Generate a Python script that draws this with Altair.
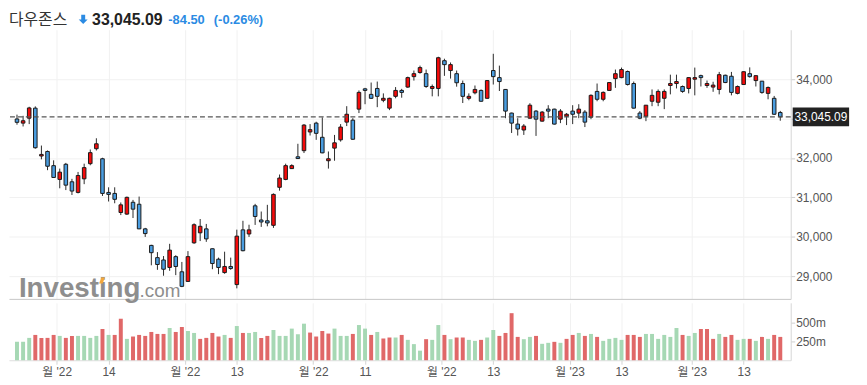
import json
import altair as alt
import pandas as pd

# ---------------- data ----------------
opens = [32990, 32885, 33010, 33265, 32050, 32165, 31805, 31455, 31840, 31395,
         31125, 31470, 31855, 32235, 31980, 31125, 31100, 30615, 30575, 30875,
         30825, 30200, 29780, 29470, 29410, 29220, 29495, 29110, 28865, 29845,
         30100, 30200, 29695, 29430, 29090, 29245, 28785, 30175, 30070, 30785,
         30425, 30405, 30290, 31255, 31455, 31730, 32030, 32185, 32660, 32885,
         32525, 31930, 32250, 32460, 32910, 32960, 33240, 33755, 33615, 33765,
         33465, 33265, 33565, 33715, 33800, 34065, 34170, 34140, 33765, 33765,
         34470, 34220, 34140, 33890, 33515, 33655, 33715, 33515, 34220, 34040,
         33740, 33140, 32860, 32710, 33010, 33190, 32935, 33240, 33240, 32985,
         33060, 33190, 33140, 33165, 33035, 33690, 33490, 33715, 34015, 34040,
         34195, 33890, 33140, 33060, 33440, 33415, 33515, 33840, 33890, 33815,
         33765, 34000, 34090, 33840, 33800, 33740, 34100, 34075, 33640, 33865,
         34140, 33965, 33950, 33640, 33515, 33155]
highs = [33100, 33070, 33300, 33310, 32315, 32190, 31940, 31730, 31875, 31470,
         31645, 31855, 32215, 32500, 32005, 31255, 31255, 30870, 31020, 30935,
         31020, 30225, 29795, 29610, 29510, 29820, 29530, 29360, 29635, 30340,
         30450, 30325, 29700, 29470, 29620, 29470, 30180, 30405, 30305, 30835,
         30640, 30810, 31100, 31580, 31855, 31840, 32360, 32860, 32860, 32920,
         33030, 32165, 32585, 32860, 33315, 33010, 33715, 33780, 33915, 33940,
         33640, 33530, 33800, 33755, 34065, 34220, 34345, 34245, 33865, 34570,
         34520, 34425, 34220, 33965, 33640, 33840, 33740, 33970, 34645, 34345,
         33750, 33150, 33010, 32860, 33390, 33215, 33190, 33340, 33250, 33240,
         33140, 33340, 33365, 33215, 33615, 33890, 33690, 33925, 34245, 34295,
         34220, 33940, 33190, 33345, 33740, 33740, 33740, 34115, 34115, 33840,
         34050, 34295, 34115, 33965, 33935, 34185, 34115, 34185, 33840, 34200,
         34300, 34095, 33955, 33815, 33575, 33195]
lows = [32845, 32800, 32860, 32235, 31965, 31690, 31495, 31230, 31185, 31060,
        31100, 31335, 31815, 32190, 31035, 30895, 30850, 30550, 30555, 30475,
        30195, 29995, 29275, 29160, 29010, 29135, 29025, 28720, 28860, 29820,
        29890, 29870, 29175, 29050, 29060, 29160, 28690, 29630, 29995, 30300,
        30250, 30265, 30225, 31170, 31435, 31720, 31975, 32125, 32570, 32460,
        32120, 31730, 31930, 32415, 32810, 32460, 33140, 33365, 33500, 33290,
        33415, 33215, 33515, 33530, 33780, 33965, 34140, 33780, 33565, 33565,
        34085, 34015, 33810, 33395, 33465, 33615, 33430, 33505, 33865, 33700,
        33010, 32635, 32570, 32585, 33000, 32560, 32925, 33010, 32850, 32885,
        32835, 32860, 33010, 32785, 32985, 33440, 33440, 33705, 33780, 34025,
        33840, 33255, 32985, 32935, 33315, 33315, 33240, 33615, 33765, 33655,
        33640, 33590, 33815, 33780, 33680, 33615, 33900, 33590, 33615, 33860,
        34040, 33815, 33630, 33490, 33095, 32945]
closes = [32905, 32945, 33270, 32260, 32090, 31790, 31505, 31640, 31310, 31160,
          31555, 31755, 32135, 32360, 31100, 31075, 30950, 30810, 31000, 30700,
          30200, 30080, 29595, 29295, 29175, 29660, 29245, 28740, 29495, 30305,
          30265, 29945, 29320, 29220, 29245, 29195, 30015, 29645, 30175, 30515,
          30375, 30350, 31075, 31490, 31805, 31805, 31985, 32835, 32720, 32625,
          32130, 31980, 32385, 32785, 33110, 32475, 33665, 33715, 33515, 33565,
          33515, 33515, 33715, 33665, 34040, 34140, 34295, 33815, 33815, 34545,
          34370, 34370, 33910, 33565, 33565, 33740, 33440, 33965, 34065, 33940,
          33190, 32885, 32735, 32810, 33340, 32985, 33165, 33190, 32860, 33190,
          33110, 33110, 33240, 32910, 33590, 33490, 33665, 33915, 34140, 34245,
          33865, 33265, 33010, 33340, 33590, 33690, 33690, 33890, 33940, 33690,
          34040, 34040, 34040, 33890, 33850, 34115, 33915, 33665, 33815, 34190,
          34065, 34090, 33665, 33790, 33110, 33045.09]
# volume in millions
volumes = [243, 243, 294, 333, 294, 294, 333, 320, 294, 320, 320, 320, 294, 320,
           411, 333, 333, 546, 281, 312, 333, 320, 372, 346, 346, 424, 372, 437,
           385, 359, 281, 294, 359, 312, 333, 294, 450, 359, 359, 372, 294, 320,
           398, 320, 320, 416, 342, 481, 364, 312, 385, 351, 416, 320, 320, 346,
           463, 416, 333, 372, 286, 299, 299, 333, 268, 212, 126, 277,
           268, 463, 333, 277, 299, 299, 268, 255, 268, 299, 398, 320, 359, 619,
           307, 277, 307, 320, 216, 229, 242, 229, 281, 333, 359, 320, 346, 307,
           255, 281, 294, 268, 333, 333, 307, 346, 346, 281, 333, 307, 424, 333,
           320, 359, 411, 411, 281, 346, 307, 333, 268, 281, 281, 255, 307, 281,
           333, 307]
# volume bar colour class: g = green, r = red
vol_dir = ("gggrrrrgrrggggrgrrgrrrrrrgrrggrrrrgrgrggrr"
           "ggggggrrrrgggrggrgrrgrgggr"
           "ggrgrrggrggrrrrggrggrgrrgrgrggggrrrggggggrggrrrgrrggrgrgrr")

tick_pos = [6.5, 15, 27.5, 36, 48.5, 57, 69.5, 78, 90.5, 99, 110.5, 119]
tick_labels = ["월 '22", "14", "월 '22", "13", "월 '22", "11",
               "월 '22", "13", "월 '23", "13", "월 '23", "13"]
price_ticks = [29000, 30000, 31000, 32000, 33000, 34000]
vol_ticks = [250, 500]

name = "다우존스"
last_price = 33045.09
last_text = "33,045.09"
change_text = "-84.50"
pct_text = "(-0.26%)"

# ---------------- layout ----------------
W = 790
PH = 272
VH = 58
XDOM = [-0.5, 125.9]
YDOM = [28422, 35256]
VDOM = [0, 755]
TY = -10  # title row, relative to the top of the price panel

RED = "#f50a0a"
BLUE = "#4a9de0"
VGREEN = "#a6d8b4"
VRED = "#e06868"
GRID = "#f1f1f1"
TXT = "#555555"
NUMFONT = "Liberation Sans"
KFONT = "Liberation Sans, 'Noto Sans CJK KR'"

N = len(closes)
df = pd.DataFrame({
    "i": list(range(N)),
    "open": opens, "high": highs, "low": lows, "close": closes,
    "vol": volumes, "vdir": list(vol_dir),
})
df["dir"] = ["up" if c >= o else "down" for o, c in zip(opens, closes)]

label_expr = ("[" + ",".join(json.dumps(l, ensure_ascii=False) for l in tick_labels) +
              "][indexof([" + ",".join(str(p) for p in tick_pos) + "], datum.value)]")

xs = alt.Scale(domain=XDOM, nice=False, zero=False)
ys = alt.Scale(domain=YDOM, nice=False, zero=False)

x_price = alt.X("i:Q", scale=xs, axis=alt.Axis(
    values=tick_pos, labels=False, ticks=False, domain=True, domainColor="#c6c6c6",
    grid=True, gridColor=GRID, title=None))

base = alt.Chart(df).encode(x=x_price)

wick = base.mark_rule(color="#2a2a2a", strokeWidth=1).encode(
    y=alt.Y("low:Q", scale=ys, axis=alt.Axis(
        orient="right", values=price_ticks,
        labelExpr="datum.value == 33000 ? '' : format(datum.value, ',')",
        grid=True, gridColor=GRID, domain=True, domainColor="#d6d6d6",
        tickColor="#cfcfcf", tickSize=4, labelPadding=1, labelColor=TXT,
        labelFont=NUMFONT, labelFontSize=12, title=None)),
    y2="high:Q")

body = base.mark_bar(size=3.6, stroke="#1a1a1a", strokeWidth=1).encode(
    y=alt.Y("open:Q", scale=ys),
    y2="close:Q",
    color=alt.Color("dir:N", scale=alt.Scale(domain=["up", "down"], range=[RED, BLUE]),
                    legend=None))

one = pd.DataFrame({"k": [0]})

dashed = alt.Chart(one).mark_rule(color="#555555", strokeWidth=1.2, strokeDash=[5, 3]).encode(
    y=alt.datum(last_price))

tag = alt.Chart(one).mark_rule(color="#222222", strokeWidth=19).encode(
    x=alt.value(W + 2), x2=alt.value(W + 59), y=alt.datum(last_price))
tag_text = alt.Chart(pd.DataFrame({"t": [last_text]})).mark_text(
    color="white", font=NUMFONT, fontSize=12, align="center", baseline="middle").encode(
    x=alt.value(W + 30.5), y=alt.datum(last_price), text="t:N")

wm1 = alt.Chart(pd.DataFrame({"t": ["Investing"]})).mark_text(
    color="#8e8e8e", font=NUMFONT, fontSize=28, fontWeight="bold", align="left",
    baseline="alphabetic").encode(x=alt.value(10), y=alt.value(PH - 2), text="t:N")
wm2 = alt.Chart(pd.DataFrame({"t": [".com"]})).mark_text(
    color="#8e8e8e", font=NUMFONT, fontSize=19, align="left",
    baseline="alphabetic").encode(x=alt.value(132), y=alt.value(PH - 2), text="t:N")
wm3 = alt.Chart(one).mark_point(
    shape="M-0.2,-1 L1,-1 L0.2,1 L-1,1 Z", filled=True, size=36, color="#f3a73b",
    opacity=1).encode(x=alt.value(94), y=alt.value(PH - 18.5))

t_name = alt.Chart(pd.DataFrame({"t": [name]})).mark_text(
    color="#333333", font=KFONT, fontSize=16, align="left",
    baseline="middle").encode(x=alt.value(0), y=alt.value(TY), text="t:N")
t_arrow = alt.Chart(one).mark_point(
    shape="M-0.42,-1 L0.42,-1 L0.42,0.05 L0.95,0.05 L0,1 L-0.95,0.05 L-0.42,0.05 Z",
    filled=True, size=90, color="#2b8be3", opacity=1).encode(
    x=alt.value(75), y=alt.value(TY - 0.5))
t_price = alt.Chart(pd.DataFrame({"t": [last_text]})).mark_text(
    color="#222222", font=NUMFONT, fontSize=16, fontWeight="bold", align="left",
    baseline="middle").encode(x=alt.value(84), y=alt.value(TY), text="t:N")
t_chg = alt.Chart(pd.DataFrame({"t": [change_text]})).mark_text(
    color="#2b8be3", font=NUMFONT, fontSize=13, fontWeight="bold", align="left",
    baseline="middle").encode(x=alt.value(161), y=alt.value(TY), text="t:N")
t_pct = alt.Chart(pd.DataFrame({"t": [pct_text]})).mark_text(
    color="#2b8be3", font=NUMFONT, fontSize=13, fontWeight="bold", align="left",
    baseline="middle").encode(x=alt.value(207), y=alt.value(TY), text="t:N")

price = alt.layer(wm1, wm2, wm3, wick, body, dashed, tag, tag_text,
                  t_name, t_arrow, t_price, t_chg, t_pct).properties(width=W, height=PH)

vol = alt.Chart(df).mark_bar(size=4).encode(
    x=alt.X("i:Q", scale=xs, axis=alt.Axis(
        values=tick_pos, labelExpr=label_expr, grid=True, gridColor=GRID,
        domain=True, domainColor="#dedede", tickColor="#d3d3d3", tickSize=4,
        labelPadding=2, labelColor=TXT, labelFont=KFONT, labelFontSize=12,
        labelOverlap=False, labelFlush=False, title=None)),
    y=alt.Y("vol:Q", scale=alt.Scale(domain=VDOM, nice=False, zero=True), axis=alt.Axis(
        orient="right", values=vol_ticks, labelExpr="datum.value + 'm'", grid=False,
        domain=True, domainColor="#d6d6d6", tickColor="#cfcfcf", tickSize=4,
        labelPadding=1, labelColor=TXT, labelFont=NUMFONT, labelFontSize=12, title=None)),
    color=alt.Color("vdir:N", scale=alt.Scale(domain=["g", "r"], range=[VGREEN, VRED]),
                    legend=None),
).properties(width=W, height=VH)

chart = alt.vconcat(price, vol, spacing=0).resolve_scale(color="independent").properties(
    padding={"top": 2, "left": 0, "right": 0, "bottom": 0}, background="white"
).configure_view(strokeWidth=0)

chart.save("out.html", embed_options={"renderer": "svg", "actions": False})
